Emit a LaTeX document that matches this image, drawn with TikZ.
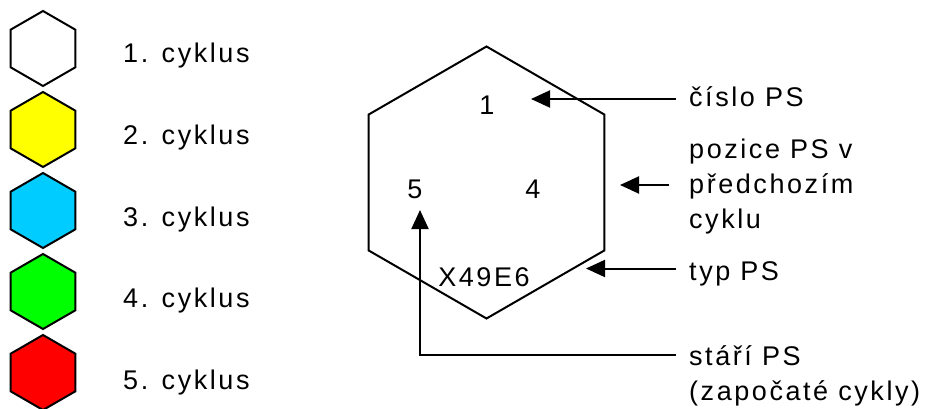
\documentclass[tikz,border=0pt]{standalone}
\usepackage{fontspec}
\setmainfont{Liberation Sans}[LetterSpace=9.5]
\usetikzlibrary{arrows.meta}

\definecolor{cyk2}{RGB}{255,255,0}
\definecolor{cyk3}{RGB}{0,204,255}
\definecolor{cyk4}{RGB}{0,255,0}
\definecolor{cyk5}{RGB}{255,0,0}

\tikzset{
  hexa/.style={line width=2pt,line join=miter},
  lbl/.style={inner sep=0pt,anchor=base west,align=left},
  val/.style={inner sep=0pt,anchor=base},
  arr/.style={line width=2pt,-{Triangle[length=19pt,width=17pt]}}
}

\begin{document}
\begin{tikzpicture}[x=1pt,y=-1pt,font=\fontsize{27}{35}\selectfont]
\useasboundingbox (0,0) rectangle (926,409);
% legenda
\foreach \col [count=\i] in {white,cyk2,cyk3,cyk4,cyk5} {
  \coordinate (h\i) at (43,{48.5+81*(\i-1)});
  \draw[hexa,fill=\col] (h\i) +(90:37.5) -- +(150:37.5) -- +(210:37.5)
    -- +(270:37.5) -- +(330:37.5) -- +(30:37.5) -- cycle;
  \node[lbl] (leg\i) at (123,{63+81.5*(\i-1)}) {\i. cyklus};
}
% palivovy soubor
\coordinate (ps) at (486.5,182.5);
\draw[hexa] (ps) +(90:136) -- +(150:136) -- +(210:136)
  -- +(270:136) -- +(330:136) -- +(30:136) -- cycle;
\node[val] (cis) at (487,115) {1};
\node[val] (star) at (415,198) {5};
\node[val] (poz) at (533,198) {4};
\node[val] (typ) at (484,286) {X49E6};
% popisky (base = posledni radek)
\node[lbl] (cisloL) at (689,107) {číslo PS};
\node[lbl] (poziceL) at (689,228) {pozice PS v\\předchozím\\cyklu};
\node[lbl] (typL) at (689,280) {typ PS};
\node[lbl] (stariL) at (689,400) {stáří PS\\(započaté cykly)};
% sipky
\coordinate (t1) at (531,0);
\coordinate (t2) at (620,0);
\coordinate (t3) at (586,0);
\coordinate (t4) at (420,210);
\draw[arr] ([shift={(-13,-8)}]cisloL.base west) coordinate (s1) -- (s1 -| t1);
\draw[arr] ([shift={(-20,-43)}]poziceL.base west) coordinate (s2) -- (s2 -| t2);
\draw[arr] ([shift={(-13,-11.5)}]typL.base west) coordinate (s3) -- (s3 -| t3);
\draw[arr] ([shift={(-13,-45)}]stariL.base west) -| (t4);
\end{tikzpicture}
\end{document}
